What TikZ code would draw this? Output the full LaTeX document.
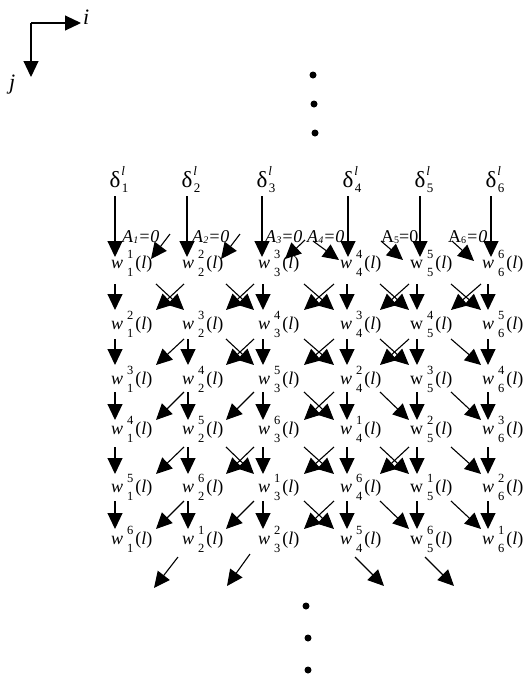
\documentclass[tikz,border=0pt]{standalone}
\usepackage{fontspec}
\setmainfont{Liberation Serif}
\usetikzlibrary{arrows.meta,calc}
\newcommand{\scrfont}{\fontsize{12.5}{12.5}\selectfont}
\newcommand{\wlabel}[3]{#1\hspace{4pt}\rlap{\raisebox{9.5pt}{\scrfont #2}}\raisebox{-8.5pt}{\scrfont #3}\hspace{2pt}(\textit{l})}
\newcommand{\dlabel}[1]{δ\rlap{\hspace{1pt}\raisebox{12pt}{\fontsize{13}{13}\selectfont\textit{l}}}\rlap{\hspace{1.5pt}\raisebox{-5pt}{\fontsize{13}{13}\selectfont #1}}}
\newcommand{\asub}[1]{\raisebox{-1.5pt}{\fontsize{10}{10}\selectfont #1}}
\begin{document}
\begin{tikzpicture}[x=1pt,y=-1pt,
  arr/.style={-{Triangle[width=15pt,length=16pt]}, line width=1.1pt},
  wl/.style={anchor=base west, inner sep=0pt, font=\fontsize{18}{20}\selectfont},
  al/.style={anchor=base west, inner sep=0pt, font=\fontsize{18}{20}\selectfont},
  dl/.style={anchor=base, inner sep=0pt, font=\fontsize{23}{25}\selectfont},
  axlab/.style={anchor=base west, inner sep=0pt, font=\fontsize{22}{24}\selectfont\itshape},
  bdot/.style={circle, fill=black, inner sep=0pt, minimum size=7pt}]
\useasboundingbox (0,0) rectangle (525,681);

% axes
\coordinate (o) at (31,23);
\coordinate (iend) at (81,23);
\coordinate (jend) at (31,77);
\draw[arr] (o) -- (iend);
\draw[arr] (o) -- (jend);
\node[axlab] (ilab) at (83,24) {i};
\node[axlab] (jlab) at (9,89) {j};

% dots
\foreach \n/\x/\y in {t1/313/75, t2/314/104, t3/315/133, b1/306/606, b2/308/638, b3/308/670}
  \node[bdot] (dot-\n) at (\x,\y) {};

% delta inputs
\foreach \c/\x in {1/115, 2/187, 3/262, 4/348, 5/420, 6/491} {
  \node[dl] (d-\c) at (\x,187) {\dlabel{\c}};
  \coordinate (dt-\c) at (\x,257);
  \draw[arr] ([yshift=-4pt]d-\c.south) -- (dt-\c);
}

% A labels
\node[al] (a-1) at (122,242) {\textit{A}\asub{\textit{1}}\textit{=0}};
\node[al] (a-2) at (192,242) {\textit{A}\asub{\textit{2}}\textit{=0}};
\node[al] (a-3) at (265,242) {\textit{A}\asub{\textit{3}}\textit{=0}};
\node[al] (a-4) at (307,242) {\textit{A}\asub{\textit{4}}\textit{=0}};
\node[al] (a-5) at (381,242) {A\asub{5}=0};
\node[al] (a-6) at (448,242) {A\asub{6}\textit{=0}};

% first diagonal arrows
\foreach \n/\xa/\ya/\xb/\yb in {1/170/234/151/259, 2/240/234/221/259, 3/305/240/285/259, 4/313/241/339/260, 5/381/241/403/260, 6/452/241/474/261} {
  \coordinate (zs-\n) at (\xa,\ya);
  \coordinate (ze-\n) at (\xb,\yb);
  \draw[arr] (zs-\n) -- (ze-\n);
}

% weight labels
\foreach \r/\b/\ka/\kb/\kc/\kd/\ke/\kf in {1/268/1/2/3/4/5/6, 2/329/2/3/4/3/4/5, 3/384/3/4/5/2/3/4, 4/434/4/5/6/1/2/3, 5/492/5/6/1/6/1/2, 6/544/6/1/2/5/6/1} {
  \node[wl] (w-1-\r) at (111,\b) {\wlabel{\textit{w}}{\ka}{1}};
  \node[wl] (w-2-\r) at (182,\b) {\wlabel{\textit{w}}{\kb}{2}};
  \node[wl] (w-3-\r) at (258,\b) {\wlabel{\textit{w}}{\kc}{3}};
  \node[wl] (w-4-\r) at (340,\b) {\wlabel{\textit{w}}{\kd}{4}};
  \node[wl] (w-5-\r) at (410,\b) {\wlabel{w}{\ke}{5}};
  \node[wl] (w-6-\r) at (482,\b) {\wlabel{\textit{w}}{\kf}{6}};
}

% band coordinates
\foreach \r/\ty/\by in {1/284/310, 2/339/365, 3/392/420, 4/447/474, 5/501/529} {
  \foreach \c/\x in {1/115, 2/188, 3/263, 4/347, 5/417, 6/488} {
    \coordinate (vt-\c-\r) at (\x,\ty);
    \coordinate (vb-\c-\r) at (\x,\by);
  }
  \foreach \g/\xa/\xb in {1/156/184, 2/226/254, 3/304/334, 4/380/409, 5/451/481} {
    \coordinate (gtl-\g-\r) at (\xa,\ty);
    \coordinate (gtr-\g-\r) at (\xb,\ty);
    \coordinate (gbl-\g-\r) at (\xa,\by);
    \coordinate (gbr-\g-\r) at (\xb,\by);
  }
}

% vertical arrows
\foreach \c in {1,3,4,5,6} \draw[arr] (vt-\c-1) -- (vb-\c-1);
\foreach \r in {2,...,5} \foreach \c in {1,...,6} \draw[arr] (vt-\c-\r) -- (vb-\c-\r);

% crossing pairs
\foreach \r/\g in {1/1, 1/2, 1/3, 1/4, 1/5, 2/2, 2/3, 2/4, 3/3, 4/2, 4/3, 4/4, 5/3} {
  \draw[arr] (gtr-\g-\r) -- (gbl-\g-\r);
  \draw[arr] (gtl-\g-\r) -- (gbr-\g-\r);
}
% down-left only
\foreach \r/\g in {2/1, 3/1, 3/2, 4/1, 5/1, 5/2}
  \draw[arr] (gtr-\g-\r) -- (gbl-\g-\r);
% down-right only
\foreach \r/\g in {2/5, 3/4, 3/5, 4/5, 5/4, 5/5}
  \draw[arr] (gtl-\g-\r) -- (gbr-\g-\r);

% outgoing arrows at the bottom
\foreach \n/\xa/\ya/\xb/\yb in {1/178/557/154/588, 2/250/554/227/586, 3/355/557/384/586, 4/425/557/454/586} {
  \coordinate (os-\n) at (\xa,\ya);
  \coordinate (oe-\n) at (\xb,\yb);
  \draw[arr] (os-\n) -- (oe-\n);
}
\end{tikzpicture}
\end{document}
